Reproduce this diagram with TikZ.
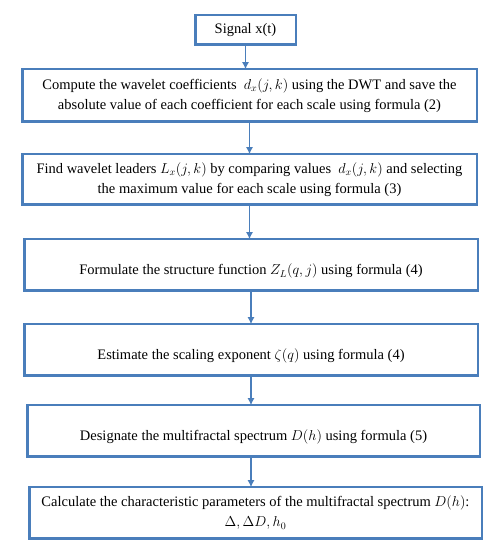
\documentclass[tikz,border=0pt]{standalone}
\usepackage{fontspec}
\setmainfont{Liberation Serif}
\usetikzlibrary{arrows.meta,positioning}
\definecolor{flowblue}{RGB}{74,126,187}

\begin{document}
\begin{tikzpicture}[->,>={Latex[length=7bp,width=7bp]},node distance=30bp,
                    semithick]
  \tikzstyle{every node}=[font=\fontsize{14.5bp}{20bp}\selectfont]
  \tikzstyle{stage}=[draw=flowblue,line width=2.5bp,align=center,outer sep=0pt,
                     minimum width=453.5bp,minimum height=51.5bp,inner sep=1bp]
  \tikzstyle{oneline}=[text height=20bp,text depth=0bp]
  \tikzstyle{flow}=[draw=flowblue,line width=1.5bp]
  \useasboundingbox (0,0) rectangle (498bp,550bp);

  \node[stage,minimum width=100.5bp,minimum height=29.5bp] (sig) at (245.5bp,520bp) {Signal x(t)};
  \node[stage,minimum width=454.5bp,minimum height=52.5bp] (coef) [below=24.5bp of sig,xshift=4bp]
    {Compute the wavelet coefficients \ $d_x(j,k)$ using the DWT and save the\\
     absolute value of each coefficient for each scale using formula (2)};
  \node[stage,minimum width=454.5bp,minimum height=50.5bp] (lead) [below=32.5bp of coef]
    {Find wavelet leaders $L_x(j,k)$ by comparing values \ $d_x(j,k)$ and selecting\\
     the maximum value for each scale using formula (3)};
  \node[stage,oneline] (struct) [below=34.5bp of lead,xshift=1.5bp]
    {Formulate the structure function $Z_L(q,j)$ using formula (4)};
  \node[stage,oneline] (expo) [below=33.5bp of struct]
    {Estimate the scaling exponent $\zeta(q)$ using formula (4)};
  \node[stage,oneline,minimum width=452.5bp] (spec) [below=29.5bp of expo,xshift=2.5bp]
    {Designate the multifractal spectrum $D(h)$ using formula (5)};
  \node[stage,minimum width=452.5bp] (param) [below=30.5bp of spec,xshift=2bp]
    {Calculate the characteristic parameters of the multifractal spectrum $D(h)$:\\
     $\Delta,\Delta D,h_0$};

  \draw[flow] (sig) -- (sig |- coef.north);
  \draw[flow] (coef) -- (coef |- lead.north);
  \draw[flow] (lead) -- (lead |- struct.north);
  \draw[flow] (struct) -- (struct |- expo.north);
  \draw[flow] (expo) -- (expo |- spec.north);
  \draw[flow] (spec.south -| expo) -- (expo |- param.north);
\end{tikzpicture}
\end{document}
